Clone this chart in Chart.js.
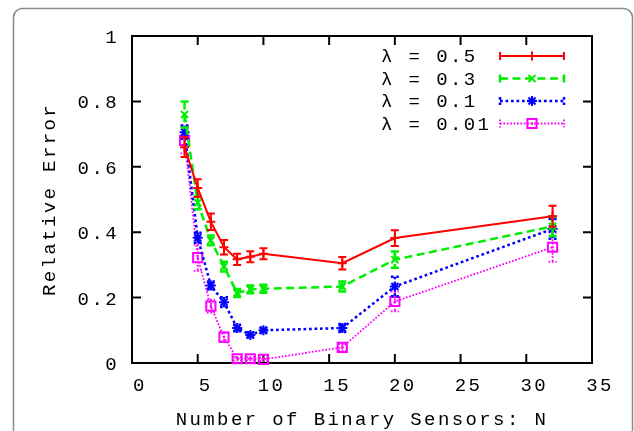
<!DOCTYPE html>
<html>
<head>
<meta charset="utf-8">
<script src="https://cdn.jsdelivr.net/npm/chart.js@4/dist/chart.umd.min.js"></script>
<style>
html, body { margin: 0; padding: 0; background: #fff; }
#wrap { position: relative; width: 634px; height: 431px; }
</style>
</head>
<body>
<div id="wrap"><canvas id="chartErrorRelativo" width="634" height="431"></canvas></div>
<script>
//* DATOS
const sensores = [4, 5, 6, 7, 8, 9, 10, 16, 20, 32];
const etiquetas = ['λ = 0.5', 'λ = 0.3', 'λ = 0.1', 'λ = 0.01'];
const ticksX = [0, 5, 10, 15, 20, 25, 30, 35];
const ticksY = [0, 0.2, 0.4, 0.6, 0.8, 1];

const error05 = [0.66, 0.535, 0.432, 0.354, 0.317, 0.325, 0.334, 0.305, 0.382, 0.449];
const barra05 = [0.03, 0.027, 0.025, 0.022, 0.017, 0.017, 0.017, 0.019, 0.024, 0.032];
const error03 = [0.76, 0.49, 0.375, 0.295, 0.214, 0.225, 0.227, 0.234, 0.316, 0.418];
const barra03 = [0.04, 0.02, 0.015, 0.015, 0.012, 0.012, 0.012, 0.015, 0.025, 0.03];
const error01 = [0.706, 0.383, 0.237, 0.186, 0.107, 0.086, 0.1, 0.107, 0.234, 0.41];
const barra01 = [0.02, 0.015, 0.012, 0.015, 0.01, 0.008, 0.008, 0.012, 0.03, 0.03];
const error001 = [0.681, 0.322, 0.174, 0.079, 0.013, 0.013, 0.011, 0.048, 0.188, 0.354];
const barra001 = [0.04, 0.04, 0.02, 0.015, 0.005, 0.005, 0.005, 0.01, 0.03, 0.045];

const fuente = 'Liberation Mono, Courier New, monospace';
const puntos = (vals) => sensores.map((n, i) => ({ x: n, y: vals[i] }));

let dataError = {
    datasets: [{
        label: etiquetas[0],
        data: puntos(error05),
        errores: barra05,
        borderColor: '#ff0000',
        borderWidth: 2,
        pointStyle: 'cross',
        pointRadius: 4.5,
        pointBorderWidth: 2
    }, {
        label: etiquetas[1],
        data: puntos(error03),
        errores: barra03,
        borderColor: '#00ee00',
        borderWidth: 2.5,
        borderDash: [8, 4.5],
        pointStyle: 'crossRot',
        pointRadius: 5,
        pointBorderWidth: 2
    }, {
        label: etiquetas[2],
        data: puntos(error01),
        errores: barra01,
        borderColor: '#0000ff',
        borderWidth: 2.5,
        borderDash: [2.7, 2.8],
        pointStyle: 'star',
        pointRadius: 5,
        pointBorderWidth: 2
    }, {
        label: etiquetas[3],
        data: puntos(error001),
        errores: barra001,
        puntoInterior: true,
        borderColor: '#ff00ff',
        borderWidth: 1.8,
        borderDash: [1.7, 1.7],
        pointStyle: 'rect',
        pointRadius: 6.5,
        pointBorderWidth: 2
    }]
};
dataError.datasets.forEach(ds => {
    ds.backgroundColor = ds.borderColor;
    ds.pointBackgroundColor = 'rgba(0,0,0,0)';
    ds.fill = false;
    ds.tension = 0;
    ds.clip = false;
});

//* marcador de la leyenda
const DibujarMarcador = (ctx, estilo, x, y, r) => {
    ctx.beginPath();
    if (estilo === 'cross' || estilo === 'star') {
        ctx.moveTo(x - r, y); ctx.lineTo(x + r, y);
        ctx.moveTo(x, y - r); ctx.lineTo(x, y + r);
    }
    if (estilo === 'crossRot' || estilo === 'star') {
        const d = r * Math.SQRT1_2;
        ctx.moveTo(x - d, y - d); ctx.lineTo(x + d, y + d);
        ctx.moveTo(x - d, y + d); ctx.lineTo(x + d, y - d);
    }
    if (estilo === 'rect') {
        const s = r * Math.SQRT1_2;
        ctx.rect(x - s, y - s, 2 * s, 2 * s);
    }
    ctx.stroke();
};

const marco = {
    id: 'marco',
    beforeDraw(chart) {
        const ctx = chart.ctx;
        ctx.letterSpacing = '2.4px';
        ctx.save();
        ctx.strokeStyle = '#8a8a8a';
        ctx.lineWidth = 1.5;
        ctx.beginPath();
        ctx.roundRect(13.5, 8.5, 619, 450, 9);
        ctx.stroke();
        ctx.restore();
    },
    beforeDatasetsDraw(chart) {
        const { ctx, chartArea: a, scales: { x, y } } = chart;
        ctx.save();
        ctx.strokeStyle = '#000';
        ctx.lineWidth = 2;
        ctx.strokeRect(a.left, a.top, a.right - a.left, a.bottom - a.top);
        ctx.beginPath();
        ticksX.forEach(v => {
            const p = x.getPixelForValue(v);
            if (p <= a.left + 1 || p >= a.right - 1) return;
            ctx.moveTo(p, a.bottom); ctx.lineTo(p, a.bottom - 9);
            ctx.moveTo(p, a.top); ctx.lineTo(p, a.top + 9);
        });
        ticksY.forEach(v => {
            const p = y.getPixelForValue(v);
            if (p <= a.top + 1 || p >= a.bottom - 1) return;
            ctx.moveTo(a.left, p); ctx.lineTo(a.left + 9, p);
            ctx.moveTo(a.right, p); ctx.lineTo(a.right - 9, p);
        });
        ctx.stroke();
        ctx.restore();
    },
    beforeDatasetDraw(chart, args) {
        const ds = chart.data.datasets[args.index];
        if (!ds.errores) return;
        const { ctx, scales: { x, y } } = chart;
        ctx.save();
        ctx.strokeStyle = ds.borderColor;
        ctx.lineWidth = ds.borderWidth;
        ctx.setLineDash(ds.borderDash || []);
        ds.data.forEach((p, i) => {
            const px = x.getPixelForValue(p.x);
            const arriba = y.getPixelForValue(p.y + ds.errores[i]);
            const abajo = y.getPixelForValue(p.y - ds.errores[i]);
            ctx.beginPath();
            ctx.moveTo(px, arriba); ctx.lineTo(px, abajo);
            ctx.moveTo(px - 4, arriba); ctx.lineTo(px + 4, arriba);
            ctx.moveTo(px - 4, abajo); ctx.lineTo(px + 4, abajo);
            ctx.stroke();
        });
        ctx.restore();
    },
    afterDatasetDraw(chart, args) {
        const ds = chart.data.datasets[args.index];
        if (!ds.puntoInterior) return;
        const { ctx, scales: { x, y } } = chart;
        ctx.save();
        ctx.fillStyle = ds.borderColor;
        ds.data.forEach(p => {
            ctx.fillRect(x.getPixelForValue(p.x) - 1, y.getPixelForValue(p.y) - 1, 2, 2);
        });
        ctx.restore();
    },
    afterDraw(chart) {
        const ctx = chart.ctx;
        ctx.save();
        ctx.font = '19px ' + fuente;
        ctx.textAlign = 'left';
        ctx.textBaseline = 'middle';
        chart.data.datasets.forEach((ds, i) => {
            const fy = 56 + i * 22.5;
            ctx.fillStyle = '#000';
            ctx.fillText(ds.label, 381, fy + 1);
            ctx.strokeStyle = ds.borderColor;
            ctx.lineWidth = ds.borderWidth;
            ctx.setLineDash(ds.borderDash || []);
            ctx.beginPath();
            ctx.moveTo(500, fy); ctx.lineTo(564, fy);
            ctx.moveTo(500, fy - 4); ctx.lineTo(500, fy + 4);
            ctx.moveTo(564, fy - 4); ctx.lineTo(564, fy + 4);
            ctx.stroke();
            ctx.setLineDash([]);
            ctx.lineWidth = ds.pointBorderWidth;
            DibujarMarcador(ctx, ds.pointStyle, 532, fy, ds.pointRadius);
            if (ds.puntoInterior) {
                ctx.fillStyle = ds.borderColor;
                ctx.fillRect(531, fy - 1, 2, 2);
            }
        });
        ctx.restore();
    }
};

let Options = {
    responsive: false,
    animation: false,
    events: [],
    layout: { padding: { left: 0, right: 42, top: 36, bottom: 0 } },
    plugins: { legend: { display: false }, tooltip: { enabled: false } },
    scales: {
        x: {
            type: 'linear',
            min: 0,
            max: 35,
            afterFit: (scale) => { scale.height = 68; },
            afterBuildTicks: (scale) => { scale.ticks = ticksX.map(v => ({ value: v })); },
            grid: { display: false, drawTicks: false },
            border: { display: false },
            ticks: {
                color: '#000', padding: 12, autoSkip: false, maxRotation: 0, labelOffset: 8,
                callback: (v) => String(v),
                font: { family: fuente, size: 19 }
            },
            title: {
                display: true,
                text: 'Number of Binary Sensors: N',
                color: '#000',
                padding: { top: 0, bottom: 0 },
                font: { family: fuente, size: 19 }
            }
        },
        y: {
            min: 0,
            max: 1,
            afterFit: (scale) => { scale.width = 132; },
            afterBuildTicks: (scale) => { scale.ticks = ticksY.map(v => ({ value: v })); },
            grid: { display: false, drawTicks: false },
            border: { display: false },
            ticks: {
                color: '#000', padding: 13, labelOffset: 2,
                callback: (v) => String(+v.toFixed(1)),
                font: { family: fuente, size: 19 }
            },
            title: {
                display: true,
                text: 'Relative Error',
                color: '#000',
                padding: { top: 39, bottom: 0 },
                font: { family: fuente, size: 19 }
            }
        }
    }
};

new Chart(document.getElementById('chartErrorRelativo'), {
    type: 'line',
    data: dataError,
    options: Options,
    plugins: [marco]
});
</script>
</body>
</html>
